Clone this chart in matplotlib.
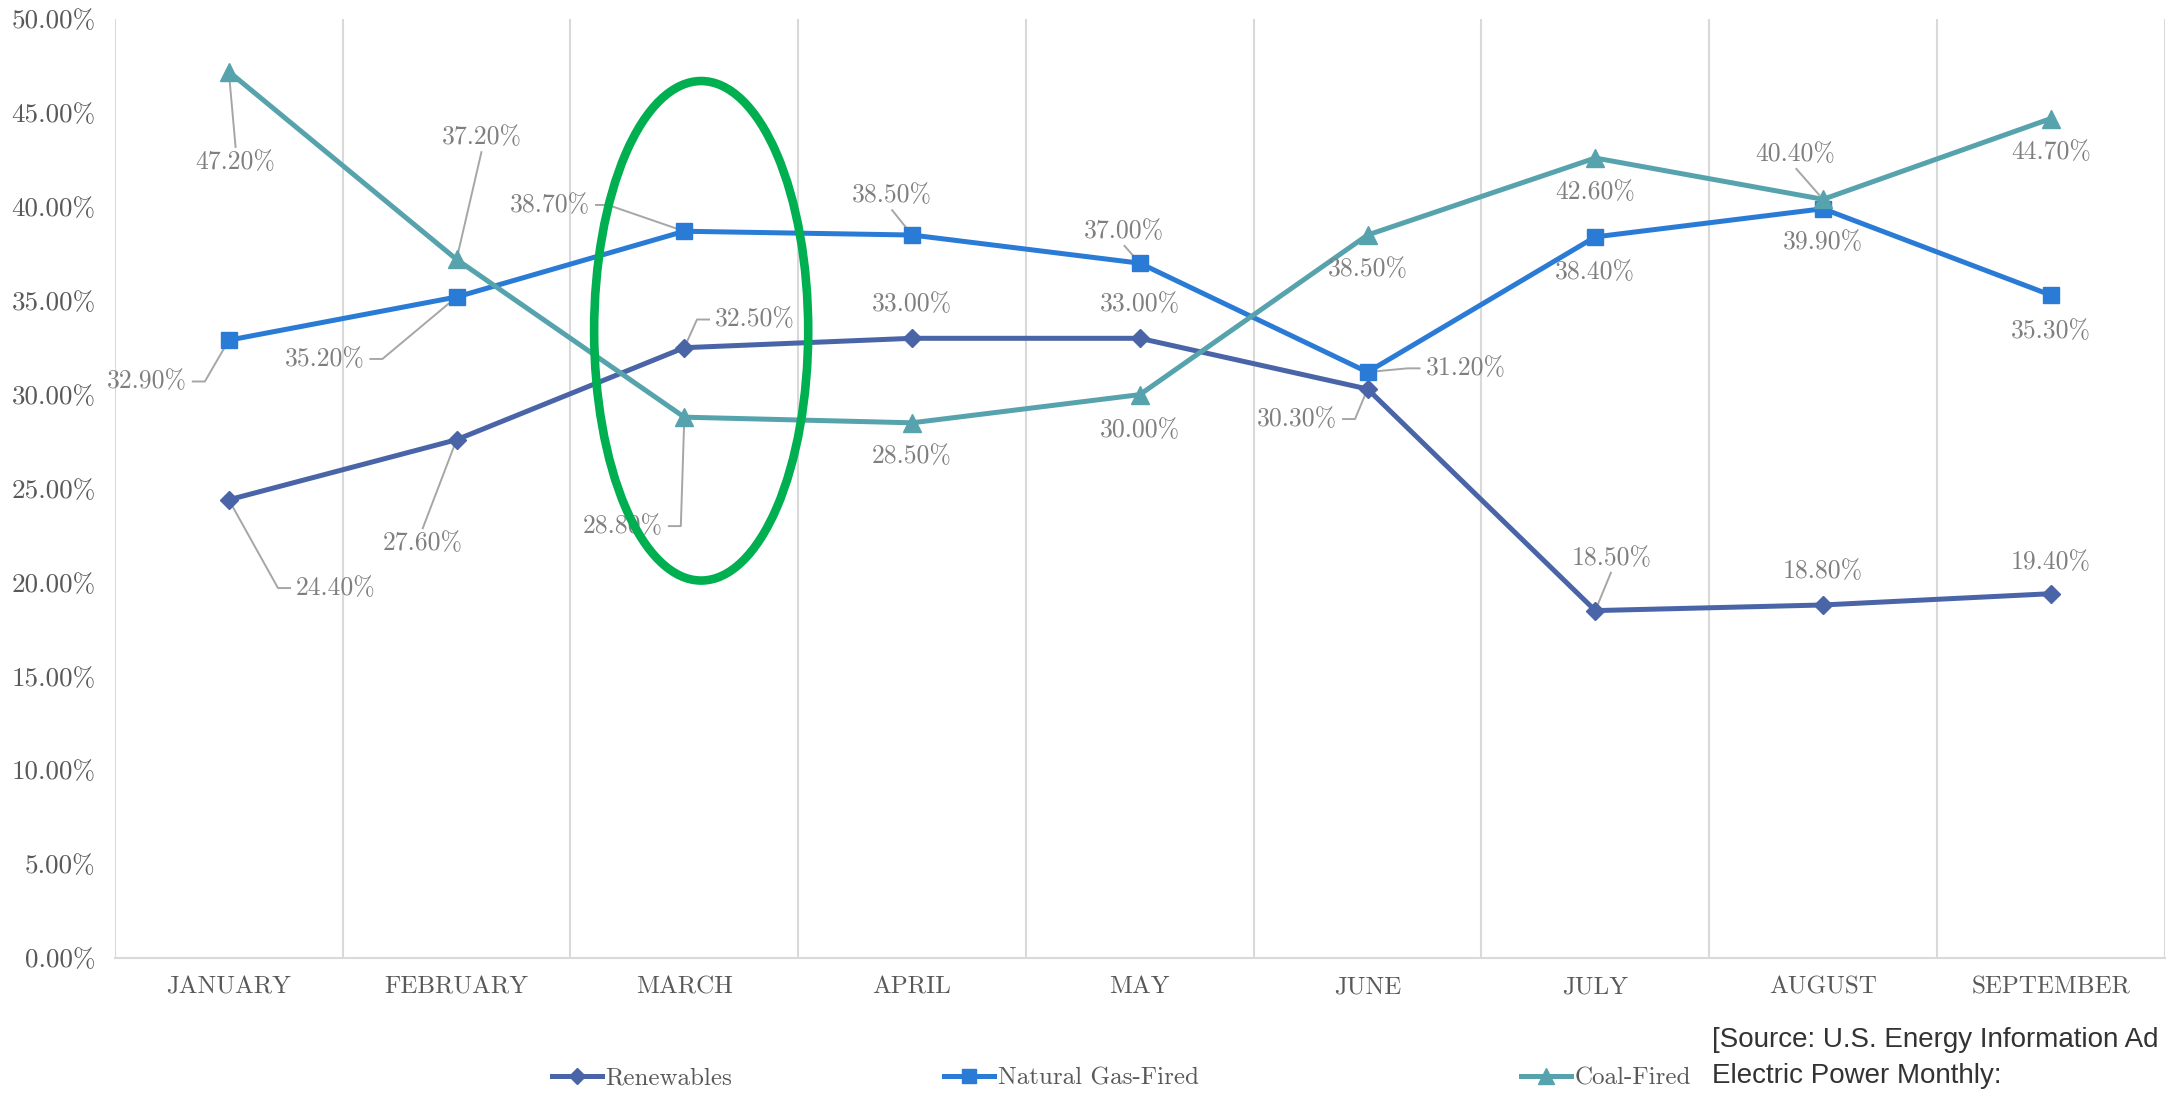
import matplotlib
matplotlib.use("Agg")
import matplotlib.pyplot as plt
from matplotlib.lines import Line2D
from matplotlib.patches import Ellipse
import numpy as np

# data (percent)
months = ["January", "February", "March", "April", "May",
          "June", "July", "August", "September"]
renewables = [24.4, 27.6, 32.5, 33.0, 33.0, 30.3, 18.5, 18.8, 19.4]
natural_gas = [32.9, 35.2, 38.7, 38.5, 37.0, 31.2, 38.4, 39.9, 35.3]
coal = [47.2, 37.2, 28.8, 28.5, 30.0, 38.5, 42.6, 40.4, 44.7]
y_ticks = [0, 5, 10, 15, 20, 25, 30, 35, 40, 45, 50]

# data label placement (x, y in data units) and leader side
# side: '' = no leader, 'l'/'r' = leader leaves the left/right edge with a stub,
# 't'/'b' = leader leaves the top/bottom edge
ren_lbl = [(0.47, 19.7), (0.85, 22.1), (2.31, 34.0), (3.0, 34.8), (4.0, 34.8),
           (4.69, 28.7), (6.07, 21.3), (7.0, 20.6), (8.0, 21.1)]
ren_side = ["l", "t", "l", "", "", "r", "b", "", ""]
gas_lbl = [(-0.36, 30.7), (0.42, 31.9), (1.41, 40.1), (2.91, 40.6), (3.93, 38.7),
           (5.43, 31.4), (6.0, 36.5), (7.0, 38.1), (8.0, 33.4)]
gas_side = ["r", "r", "r", "b", "b", "l", "", "", ""]
coal_lbl = [(0.03, 42.4), (1.11, 43.7), (1.73, 23.0), (3.0, 26.7), (4.0, 28.1),
            (5.0, 36.7), (6.0, 40.8), (6.88, 42.8), (8.0, 42.9)]
coal_side = ["t", "b", "r", "", "", "", "", "b", ""]

REN_C = "#4a64a8"
GAS_C = "#2a7bd6"
COAL_C = "#57a3ad"
LBL_C = "#7f7f7f"
LEAD_C = "#a6a6a6"

plt.rcParams["font.family"] = ["cmr10", "DejaVu Serif"]
plt.rcParams["axes.unicode_minus"] = False

fig = plt.figure(figsize=(21.69, 10.95), dpi=100)
ax = fig.add_axes([0.053, 0.1251, 0.945, 0.8575])

x = np.arange(len(months))
series = [
    (renewables, REN_C, "D", 9.5, ren_lbl, ren_side, "Renewables"),
    (natural_gas, GAS_C, "s", 12, gas_lbl, gas_side, "Natural Gas-Fired"),
    (coal, COAL_C, "^", 13, coal_lbl, coal_side, "Coal-Fired"),
]

ax.set_xlim(-0.5, len(months) - 0.5)
ax.set_ylim(0, 50)

handles = []
pending = []
for vals, col, mk, ms, lbls, sides, name in series:
    h, = ax.plot(x, vals, color=col, lw=3.6, marker=mk, ms=ms,
                 markeredgecolor=col, label=name, zorder=3)
    handles.append(h)
    for xi, v, (lx, ly), side in zip(x, vals, lbls, sides):
        t = ax.text(lx, ly, f"{v:.2f}%", ha="center", va="center",
                    fontsize=18.5, color=LBL_C, zorder=4)
        if side:
            pending.append((t, xi, v, side))

# leader lines, built from the drawn text extents
fig.canvas.draw()
rend = fig.canvas.get_renderer()
inv = ax.transData.inverted()
gap, stub, shrink = 5, 13, 5
for t, xi, v, side in pending:
    bb = t.get_window_extent(rend)
    px, py = ax.transData.transform((xi, v))
    xc, yc = (bb.x0 + bb.x1) / 2, (bb.y0 + bb.y1) / 2
    if side == "l":
        pts = [(bb.x0 - gap, yc), (bb.x0 - gap - stub, yc)]
    elif side == "r":
        pts = [(bb.x1 + gap, yc), (bb.x1 + gap + stub, yc)]
    elif side == "t":
        pts = [(xc, bb.y1 + 2)]
    else:
        pts = [(xc, bb.y0 - 2)]
    ex, ey = pts[-1]
    d = np.hypot(px - ex, py - ey)
    pts.append((px - (px - ex) * shrink / d, py - (py - ey) * shrink / d))
    dp = inv.transform(pts)
    ax.plot(dp[:, 0], dp[:, 1], color=LEAD_C, lw=1.4, zorder=2.5,
            solid_capstyle="butt")

# highlight around March
ax.add_patch(Ellipse((2.074, 33.4), 0.94, 26.6, fill=False,
                     edgecolor="#00b050", lw=6.2, zorder=5))

ax.set_yticks(y_ticks)
ax.set_yticklabels([f"{t:.2f}%" for t in y_ticks], fontsize=19.5, color="#595959")
ax.set_xticks(x)
ax.set_xticklabels([m.upper() for m in months], fontsize=18, color="#595959")
ax.tick_params(axis="x", length=0, pad=13)
ax.tick_params(axis="y", length=0, pad=14)

# vertical gridlines between categories
for b in np.arange(-0.5, len(months) + 0.5, 1.0):
    ax.axvline(b, color="#d9d9d9", lw=1.5, zorder=1)
for s in ["top", "right", "left"]:
    ax.spines[s].set_visible(False)
ax.spines["bottom"].set_color("#d9d9d9")
ax.spines["bottom"].set_linewidth(1.5)

# legend entries spread out like the original
leg_x = [0.244, 0.425, 0.691]
for h, lx in zip(handles, leg_x):
    proxy = Line2D([], [], color=h.get_color(), lw=3.6, marker=h.get_marker(),
                   ms=h.get_markersize() * 0.85)
    fig.legend(handles=[proxy], labels=[h.get_label()], loc="center left",
               bbox_to_anchor=(lx, 0.015), frameon=False, fontsize=18,
               handlelength=2.0, handletextpad=0.15, labelcolor="#595959")

fig.text(0.7895, 0.0505, "[Source: U.S. Energy Information Ad",
         family="Liberation Sans", fontsize=20, color="#333333", va="center")
fig.text(0.7895, 0.0177, "Electric Power Monthly:",
         family="Liberation Sans", fontsize=20, color="#333333", va="center")

fig.savefig("out.png", dpi=100)
